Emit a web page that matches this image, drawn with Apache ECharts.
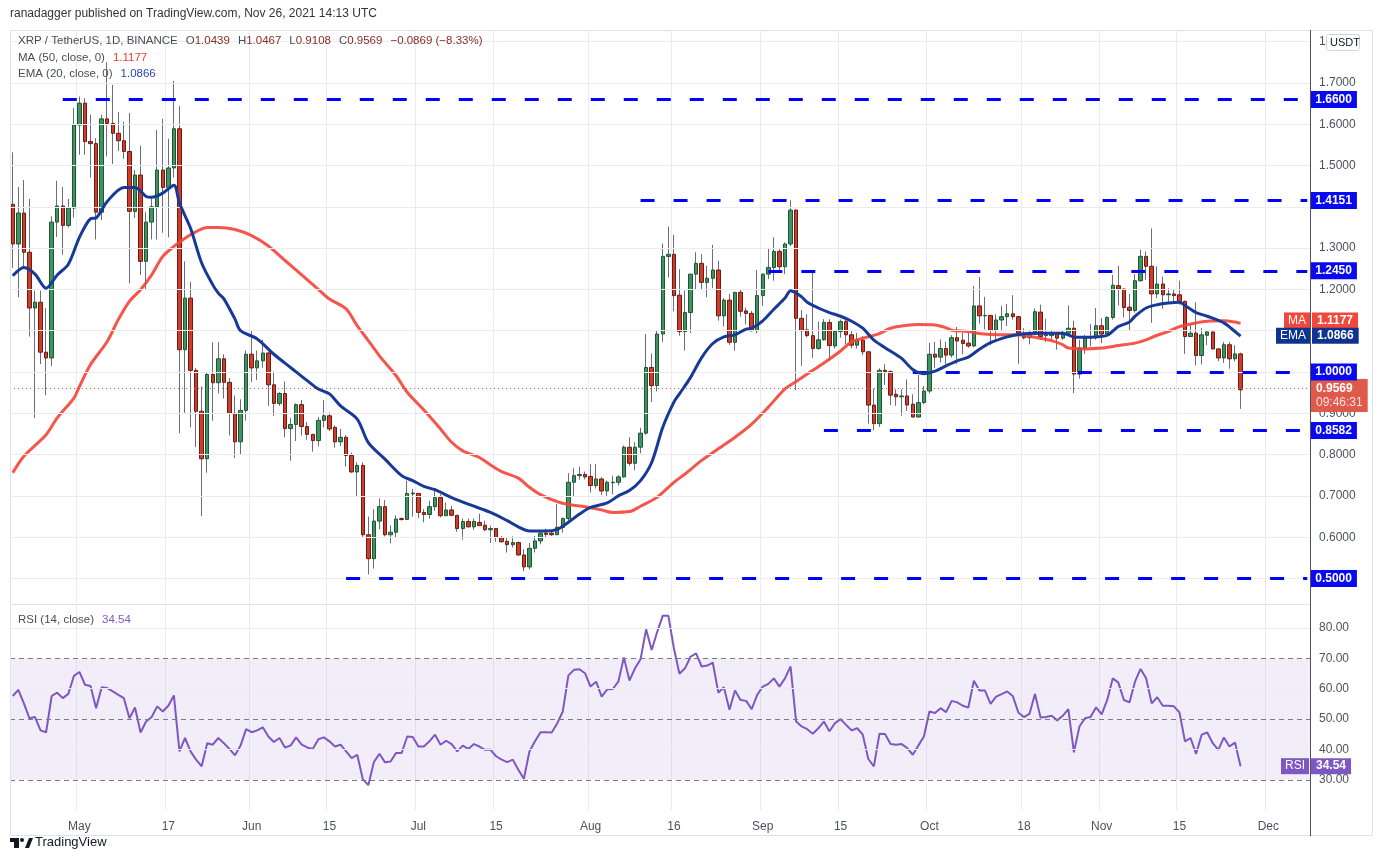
<!DOCTYPE html>
<html>
<head>
<meta charset="utf-8">
<title>XRP / TetherUS 1D</title>
<script src="https://cdn.jsdelivr.net/npm/echarts@6.0.0/dist/echarts.min.js"></script>
<style>
  html, body { margin: 0; padding: 0; background: #fff; }
  #chart { width: 1383px; height: 860px; }
</style>
</head>
<body>
<div id="chart"></div>
<script>
// daily candles, 19 Apr 2021 .. 26 Nov 2021
var opens = [1.406,1.310,1.385,1.290,1.155,1.169,1.048,1.034,1.363,1.402,
  1.355,1.397,1.598,1.651,1.558,1.553,1.387,1.613,1.602,1.578,
  1.560,1.534,1.389,1.477,1.268,1.363,1.400,1.489,1.447,1.494,
  1.589,1.054,1.179,1.004,0.905,0.790,0.994,0.974,1.032,0.975,
  0.900,0.831,0.907,1.043,1.010,1.027,1.046,0.969,0.924,0.948,
  0.863,0.873,0.921,0.868,0.849,0.834,0.883,0.894,0.866,0.831,
  0.842,0.798,0.758,0.774,0.606,0.548,0.639,0.674,0.606,0.612,
  0.645,0.643,0.705,0.706,0.660,0.655,0.674,0.696,0.652,0.666,
  0.653,0.621,0.638,0.625,0.636,0.629,0.618,0.621,0.599,0.590,
  0.582,0.587,0.557,0.528,0.573,0.591,0.610,0.610,0.606,0.624,
  0.645,0.733,0.749,0.752,0.747,0.725,0.741,0.712,0.732,0.733,
  0.746,0.818,0.779,0.818,0.852,1.011,0.967,1.092,1.280,1.285,
  1.186,1.098,1.144,1.237,1.263,1.217,1.227,1.247,1.136,1.174,
  1.072,1.193,1.148,1.142,1.100,1.185,1.237,1.253,1.292,1.255,
  1.310,1.392,1.130,1.102,1.088,1.057,1.078,1.120,1.063,1.098,
  1.122,1.090,1.065,1.077,1.049,0.920,0.875,1.004,1.001,0.946,
  0.940,0.942,0.922,0.891,0.926,0.954,1.043,1.036,1.057,1.041,
  1.083,1.077,1.070,1.063,1.160,1.136,1.137,1.101,1.126,1.134,
  1.141,1.134,1.094,1.083,1.091,1.145,1.088,1.088,1.093,1.082,
  1.094,1.106,0.995,1.058,1.084,1.086,1.112,1.092,1.132,1.209,
  1.201,1.157,1.149,1.221,1.280,1.256,1.189,1.213,1.187,1.189,
  1.187,1.171,1.086,1.094,1.040,1.089,1.097,1.056,1.034,1.066,
  1.032,1.0439];
var highs = [1.532,1.448,1.465,1.419,1.197,1.197,1.155,1.377,1.463,1.448,
  1.419,1.639,1.667,1.663,1.623,1.566,1.623,1.750,1.695,1.629,
  1.606,1.627,1.489,1.548,1.387,1.421,1.586,1.613,1.565,1.705,
  1.644,1.268,1.218,1.010,0.965,0.998,1.072,1.072,1.043,0.985,
  0.943,0.934,1.052,1.100,1.052,1.078,1.049,1.001,0.951,0.977,
  0.889,0.924,0.932,0.879,0.850,0.891,0.932,0.902,0.871,0.862,
  0.847,0.805,0.781,0.781,0.650,0.668,0.694,0.690,0.629,0.653,
  0.648,0.737,0.717,0.706,0.668,0.688,0.712,0.704,0.684,0.676,
  0.653,0.645,0.645,0.645,0.657,0.640,0.628,0.621,0.603,0.599,
  0.602,0.589,0.571,0.586,0.603,0.616,0.621,0.614,0.680,0.648,
  0.755,0.767,0.771,0.759,0.777,0.777,0.745,0.737,0.749,0.750,
  0.822,0.842,0.830,0.865,1.092,1.045,1.100,1.311,1.352,1.332,
  1.249,1.197,1.237,1.290,1.285,1.257,1.308,1.269,1.179,1.189,
  1.193,1.201,1.156,1.148,1.247,1.239,1.298,1.326,1.300,1.314,
  1.416,1.394,1.150,1.140,1.247,1.122,1.128,1.128,1.101,1.127,
  1.127,1.099,1.095,1.087,1.049,0.960,1.009,1.019,1.004,0.958,
  0.958,0.982,0.946,0.993,0.966,1.071,1.073,1.079,1.073,1.089,
  1.109,1.095,1.095,1.208,1.230,1.182,1.137,1.140,1.160,1.165,
  1.186,1.135,1.106,1.101,1.154,1.163,1.129,1.102,1.097,1.102,
  1.161,1.124,1.078,1.090,1.116,1.155,1.131,1.135,1.235,1.257,
  1.202,1.189,1.237,1.296,1.292,1.348,1.256,1.231,1.203,1.199,
  1.221,1.173,1.116,1.169,1.106,1.100,1.098,1.056,1.073,1.073,
  1.065,1.0467];
var lows = [1.252,1.181,1.252,1.086,0.889,1.019,0.944,1.014,1.327,1.284,
  1.350,1.374,1.526,1.526,1.471,1.321,1.368,1.522,1.504,1.535,
  1.516,1.215,1.373,1.235,1.199,1.321,1.321,1.337,1.326,1.471,
  0.852,0.901,0.866,0.818,0.651,0.756,0.882,0.948,0.936,0.846,
  0.792,0.800,0.882,0.976,0.981,1.010,0.918,0.894,0.918,0.842,
  0.785,0.833,0.846,0.836,0.807,0.820,0.866,0.857,0.817,0.821,
  0.771,0.756,0.699,0.600,0.510,0.524,0.619,0.602,0.585,0.598,
  0.640,0.643,0.650,0.646,0.636,0.645,0.664,0.648,0.652,0.652,
  0.613,0.594,0.624,0.618,0.628,0.615,0.586,0.589,0.587,0.563,
  0.575,0.555,0.518,0.522,0.563,0.583,0.599,0.603,0.606,0.611,
  0.640,0.700,0.739,0.740,0.708,0.718,0.702,0.700,0.704,0.725,
  0.744,0.773,0.762,0.803,0.848,0.927,0.953,1.072,1.229,1.147,
  1.088,1.052,1.094,1.201,1.201,1.181,1.203,1.124,1.110,1.066,
  1.052,1.134,1.115,1.098,1.094,1.160,1.225,1.221,1.247,1.237,
  1.305,0.956,1.015,1.084,1.034,1.054,1.076,1.027,1.057,1.083,
  1.067,1.057,1.057,1.041,0.875,0.859,0.867,0.969,0.920,0.918,
  0.894,0.906,0.890,0.890,0.922,0.948,1.010,1.023,1.019,1.035,
  1.020,1.043,1.059,1.060,1.117,1.103,1.065,1.079,1.099,1.111,
  1.127,1.020,1.079,1.067,1.090,1.078,1.073,1.076,1.054,1.078,
  1.090,0.949,0.984,1.044,1.062,1.078,1.070,1.090,1.127,1.161,
  1.132,1.100,1.144,1.219,1.223,1.119,1.179,1.153,1.169,1.167,
  1.163,1.044,1.086,1.016,1.018,1.065,1.054,1.026,1.022,1.008,
  1.026,0.9108];
var closes = [1.310,1.385,1.290,1.155,1.169,1.048,1.034,1.363,1.402,1.355,
  1.397,1.598,1.651,1.558,1.553,1.387,1.613,1.602,1.578,1.560,
  1.534,1.389,1.477,1.268,1.363,1.400,1.489,1.447,1.494,1.589,
  1.054,1.179,1.004,0.905,0.790,0.994,0.974,1.032,0.975,0.900,
  0.831,0.907,1.043,1.010,1.027,1.046,0.969,0.924,0.948,0.863,
  0.873,0.921,0.868,0.849,0.834,0.883,0.894,0.862,0.831,0.842,
  0.798,0.758,0.774,0.606,0.548,0.639,0.674,0.606,0.612,0.644,
  0.643,0.706,0.707,0.660,0.655,0.674,0.696,0.652,0.666,0.653,
  0.621,0.638,0.625,0.638,0.628,0.618,0.621,0.599,0.589,0.582,
  0.587,0.557,0.528,0.573,0.591,0.610,0.607,0.606,0.624,0.645,
  0.733,0.749,0.752,0.746,0.725,0.741,0.712,0.733,0.733,0.746,
  0.818,0.779,0.818,0.852,1.011,0.967,1.092,1.280,1.285,1.185,
  1.098,1.144,1.237,1.263,1.217,1.227,1.247,1.136,1.174,1.072,
  1.193,1.147,1.142,1.100,1.185,1.237,1.253,1.292,1.255,1.310,
  1.392,1.130,1.100,1.088,1.057,1.078,1.120,1.064,1.098,1.122,
  1.090,1.065,1.077,1.049,0.920,0.875,1.004,1.001,0.944,0.940,
  0.942,0.920,0.891,0.926,0.954,1.043,1.036,1.057,1.041,1.083,
  1.075,1.069,1.063,1.160,1.136,1.137,1.101,1.126,1.134,1.141,
  1.134,1.094,1.083,1.091,1.146,1.086,1.090,1.094,1.082,1.094,
  1.106,0.995,1.058,1.084,1.086,1.112,1.092,1.132,1.210,1.201,
  1.156,1.149,1.221,1.280,1.256,1.189,1.213,1.187,1.189,1.185,
  1.169,1.086,1.094,1.040,1.090,1.097,1.056,1.034,1.066,1.032,
  1.0439,0.9569];

// MA(50) and EMA(20): [day index, value]
var maPoints = [[0,0.756],[2,0.796],[6,0.848],[8,0.889],[11,0.937],[12,0.965],[14,1.018],[17,1.074],
  [19,1.127],[21,1.171],[23,1.199],[25,1.235],[27,1.280],[29,1.304],[31,1.324],[33,1.340],[35,1.350],
  [37,1.350],[40,1.345],[43,1.330],[46,1.305],[49,1.270],[52,1.235],[55,1.200],[57,1.177],[60,1.153],
  [62,1.112],[64,1.076],[66,1.039],[69,0.991],[71,0.951],[74,0.908],[77,0.862],[79,0.830],[81,0.809],
  [84,0.793],[86,0.775],[88,0.759],[91,0.743],[93,0.721],[95,0.703],[98,0.686],[100,0.679],[103,0.674],
  [106,0.666],[108,0.660],[111,0.662],[113,0.675],[116,0.697],[119,0.733],[121,0.753],[124,0.786],
  [127,0.814],[130,0.842],[133,0.874],[136,0.915],[139,0.959],[141,0.977],[143,0.995],[146,1.022],
  [149,1.051],[151,1.073],[154,1.085],[156,1.093],[158,1.106],[161,1.113],[163,1.115],[166,1.114],
  [168,1.107],[169,1.101],[172,1.098],[174,1.093],[176,1.091],[179,1.090],[181,1.090],[184,1.084],
  [187,1.076],[189,1.066],[190,1.058],[193,1.056],[196,1.058],[199,1.064],[202,1.070],[204,1.078],
  [206,1.089],[208,1.098],[210,1.110],[213,1.119],[215,1.123],[218,1.124],[220,1.121],[221,1.1177]];
var emaPoints = [[0,1.233],[2,1.253],[4,1.237],[6,1.203],[8,1.235],[10,1.261],[12,1.326],[14,1.371],
  [15,1.373],[17,1.413],[20,1.447],[22,1.447],[24,1.425],[25,1.423],[27,1.433],[29,1.452],[30,1.409],
  [32,1.348],[34,1.264],[36,1.211],[37,1.191],[38,1.177],[40,1.128],[41,1.100],[44,1.080],[47,1.043],
  [50,1.011],[53,0.979],[55,0.959],[57,0.947],[59,0.918],[62,0.886],[64,0.829],[67,0.789],[70,0.749],
  [72,0.737],[74,0.723],[76,0.715],[79,0.696],[82,0.680],[86,0.660],[89,0.640],[91,0.625],[93,0.615],
  [96,0.615],[98,0.619],[100,0.636],[102,0.656],[104,0.672],[107,0.683],[109,0.700],[111,0.713],
  [113,0.737],[115,0.781],[117,0.866],[119,0.927],[120,0.947],[122,0.987],[124,1.035],[126,1.069],
  [128,1.085],[130,1.090],[132,1.104],[133,1.106],[135,1.124],[137,1.152],[139,1.179],[140,1.197],
  [141,1.191],[142,1.182],[143,1.169],[145,1.155],[147,1.144],[149,1.135],[151,1.123],[153,1.106],
  [155,1.077],[157,1.059],[160,1.033],[162,1.006],[164,0.996],[166,1.002],[168,1.015],[170,1.027],
  [172,1.036],[174,1.055],[176,1.071],[179,1.085],[181,1.091],[184,1.094],[187,1.094],[189,1.094],
  [191,1.085],[193,1.084],[195,1.085],[197,1.089],[199,1.110],[201,1.121],[202,1.135],[204,1.155],
  [206,1.163],[208,1.167],[210,1.169],[211,1.161],[213,1.144],[215,1.135],[218,1.119],[220,1.098],
  [221,1.0866]];

// RSI(14), one value per candle
var rsiValues = [57.6,59.6,55.2,50.3,50.7,46.3,45.7,57.6,58.7,56.9,
  58.3,64.2,65.5,61.3,60.9,53.6,60.5,60.2,59.1,58.0,
  56.9,50.3,53.8,45.6,49.2,50.7,54.2,52.5,54.4,57.8,
  39.4,43.8,39.4,36.7,34.5,42.1,41.6,43.8,42.1,40.2,
  38.1,41.3,46.7,45.7,46.3,47.3,44.3,42.5,43.8,40.7,
  41.3,44.0,41.6,40.7,40.2,43.4,44.0,42.7,41.0,41.6,
  39.4,37.2,38.3,30.3,28.3,35.9,38.6,35.8,36.1,38.9,
  38.9,44.3,44.1,41.0,41.0,42.7,44.9,41.6,42.9,41.8,
  39.4,41.3,40.2,41.8,41.0,39.9,39.9,37.8,36.7,35.9,
  36.7,33.4,30.4,39.4,42.7,45.7,45.7,45.6,48.6,52.5,
  64.3,66.2,66.4,65.1,60.7,62.3,57.4,59.8,59.9,62.3,
  70.3,62.7,66.7,69.7,79.5,72.7,78.7,84.0,84.0,73.3,
  64.9,66.7,70.5,71.6,67.3,67.6,68.6,58.7,60.5,53.1,
  59.4,56.3,56.0,53.3,58.0,60.7,61.6,63.4,60.7,63.4,
  67.3,49.2,47.6,46.7,45.2,47.0,49.2,46.0,48.7,50.0,
  48.1,46.3,47.0,44.9,36.9,34.5,45.2,45.1,41.8,41.6,
  41.8,40.5,38.3,41.3,44.3,52.5,52.0,53.6,52.3,56.0,
  55.5,54.4,53.8,62.6,59.4,59.4,55.0,57.4,58.2,59.1,
  57.6,52.2,50.7,51.7,58.3,50.5,50.7,51.1,49.6,51.1,
  53.3,39.1,47.6,50.3,50.7,53.9,51.6,56.3,63.4,62.0,
  56.3,55.5,62.3,66.5,63.4,55.2,57.2,54.4,54.4,54.2,
  52.2,42.7,43.8,38.6,44.9,45.6,42.1,39.9,44.0,41.0,
  42.3,34.54];

// horizontal levels drawn by the author, and the day they start on
var levelValues = [1.66, 1.4151, 1.245, 1.0, 0.8582, 0.5];
var levelStartDays = [9, 113, 136, 162, 146, 60];

// axis ticks
var priceTicks = [0.5,0.6,0.7,0.8,0.9,1.0,1.1,1.2,1.3,1.4,1.5,1.6,1.7,1.8];
var priceTicksHidden = [0.5, 1.0, 1.1, 1.4];
var rsiTicks = [80, 70, 60, 50, 40, 30];
var rsiDashed = [70, 50, 30];
var timeTickDates = ['2021-05-01','2021-05-17','2021-06-01','2021-06-15','2021-07-01','2021-07-15',
  '2021-08-01','2021-08-16','2021-09-01','2021-09-15','2021-10-01','2021-10-18','2021-11-01',
  '2021-11-15','2021-12-01'];
var timeTickLabels = ['May','17','Jun','15','Jul','15','Aug','16','Sep','15','Oct','18','Nov','15','Dec'];

var lastMA = 1.1177, lastEMA = 1.0866, lastRSI = 34.54;
var lastClose = closes[closes.length - 1];

// one category per day, with some empty room after the last candle
var categories = [];
var day0 = Date.UTC(2021, 3, 19);
for (var d = 0; d < 234; d++) {
  categories.push(new Date(day0 + d * 86400000).toISOString().slice(0, 10));
}
var tickLabelOf = {};
timeTickDates.forEach(function (t, k) { tickLabelOf[t] = timeTickLabels[k]; });
function isTick(idx, val) { return tickLabelOf[val] !== undefined; }

var FONT = "'Liberation Sans', Arial, sans-serif";
var GRID_C = '#ececee';
var AXIS_TXT = '#4c525e';
var HEAD_FONT = '12px ' + FONT;
var LEG_FONT = '11.5px ' + FONT;

var bodyData = opens.map(function (o, i) {
  var c = closes[i];
  return [o, c, Math.min(o, c), Math.max(o, c)];
});
var wickData = highs.map(function (h, i) { return [h, h, lows[i], h]; });

function sideBox(name, value, color, shiftX, shiftY) {
  return {
    show: true, position: 'end', distance: 0, offset: [shiftX, shiftY],
    formatter: '{n|' + name + '}{s| }{v|' + value + '}',
    rich: {
      n: { backgroundColor: color, color: '#fff', fontSize: 12, fontFamily: FONT, padding: [2, 4, 2, 4], lineHeight: 16 },
      s: { width: 2, fontSize: 12 },
      v: { backgroundColor: color, color: '#fff', fontSize: 12, fontWeight: 'bold', fontFamily: FONT, padding: [2, 5, 2, 5], lineHeight: 16 }
    }
  };
}

var chart = echarts.init(document.getElementById('chart'));

chart.setOption({
  animation: false,
  backgroundColor: '#ffffff',
  textStyle: { fontFamily: FONT },
  grid: [
    { left: 10, top: 30, width: 1300, height: 573 },
    { left: 10, top: 605, width: 1300, height: 205 }
  ],
  xAxis: [
    {
      type: 'category', gridIndex: 0, data: categories, boundaryGap: true,
      axisLine: { show: false }, axisTick: { show: false }, axisLabel: { show: false },
      splitLine: { show: true, interval: isTick, lineStyle: { color: GRID_C, width: 1 } }
    },
    {
      type: 'category', gridIndex: 1, data: categories, boundaryGap: true,
      axisLine: { show: false }, axisTick: { show: false },
      axisLabel: {
        show: true, interval: isTick, margin: 11, color: AXIS_TXT, fontSize: 12, fontFamily: FONT,
        formatter: function (v) { return tickLabelOf[v] || ''; }
      },
      splitLine: { show: true, interval: isTick, lineStyle: { color: GRID_C, width: 1 } }
    }
  ],
  yAxis: [
    { type: 'value', gridIndex: 0, min: 0.4407, max: 1.8281, show: false, splitLine: { show: false } },
    { type: 'value', gridIndex: 1, min: 20.14, max: 87.51, show: false, splitLine: { show: false } }
  ],
  series: [
    {
      name: 'priceGrid', type: 'line', xAxisIndex: 0, yAxisIndex: 0, data: [], z: 1, silent: true,
      markLine: {
        silent: true, symbol: 'none', animation: false,
        lineStyle: { color: GRID_C, type: 'solid', width: 1 },
        label: {
          show: true, position: 'end', distance: 9, color: AXIS_TXT, fontSize: 12, fontFamily: FONT,
          formatter: function (p) { return (+p.value).toFixed(4); }
        },
        data: priceTicks.map(function (v) {
          var item = { yAxis: v };
          if (priceTicksHidden.indexOf(v) >= 0) item.label = { show: false };
          return item;
        })
      }
    },
    {
      name: 'wick', type: 'candlestick', xAxisIndex: 0, yAxisIndex: 0, data: wickData,
      barWidth: 1, z: 2, silent: true,
      itemStyle: {
        color: '#6b6e78', color0: '#6b6e78', borderColor: '#6b6e78', borderColor0: '#6b6e78',
        borderColorDoji: '#6b6e78', borderWidth: 1
      }
    },
    {
      name: 'XRP', type: 'candlestick', xAxisIndex: 0, yAxisIndex: 0, data: bodyData,
      barWidth: 4, z: 3, silent: true,
      itemStyle: {
        color: '#3f9461', color0: '#cf3c2c', borderColor: '#1e5634', borderColor0: '#6a1c12',
        borderColorDoji: '#6a1c12', borderWidth: 1
      },
      markLine: {
        silent: true, symbol: 'none', animation: false,
        lineStyle: { color: '#e0533f', type: [1, 3], width: 1 },
        label: {
          show: true, position: 'end', distance: 1, offset: [0, 7],
          backgroundColor: '#e05a4b', padding: [3, 5, 2, 5],
          formatter: '{v|' + lastClose.toFixed(4) + '}\n{t|09:46:31}',
          rich: {
            v: { color: '#fff', fontSize: 12, fontWeight: 'bold', fontFamily: FONT, lineHeight: 14 },
            t: { color: '#fbe3e0', fontSize: 12, fontFamily: FONT, lineHeight: 14 }
          }
        },
        data: [{ yAxis: lastClose }]
      }
    },
    {
      name: 'MA (50)', type: 'line', xAxisIndex: 0, yAxisIndex: 0, data: maPoints,
      smooth: 0.3, showSymbol: false, z: 4, silent: true,
      lineStyle: { color: '#f44336', width: 3, opacity: 0.9 },
      markLine: {
        silent: true, symbol: 'none', animation: false,
        lineStyle: { color: 'rgba(0,0,0,0)' },
        label: sideBox('MA', lastMA.toFixed(4), '#f2483b', -26, -2),
        data: [{ yAxis: lastMA }]
      }
    },
    {
      name: 'EMA (20)', type: 'line', xAxisIndex: 0, yAxisIndex: 0, data: emaPoints,
      smooth: 0.3, showSymbol: false, z: 5, silent: true,
      lineStyle: { color: '#173a99', width: 3 },
      markLine: {
        silent: true, symbol: 'none', animation: false,
        lineStyle: { color: 'rgba(0,0,0,0)' },
        label: sideBox('EMA', lastEMA.toFixed(4), '#0f338f', -34, 1),
        data: [{ yAxis: lastEMA }]
      }
    },
    {
      name: 'levels', type: 'line', xAxisIndex: 0, yAxisIndex: 0, data: [], z: 6, silent: true,
      markLine: {
        silent: true, symbol: 'none', animation: false,
        lineStyle: { color: '#0000ff', type: [14, 19], width: 3 },
        label: {
          show: true, position: 'end', distance: 3, color: '#fff', backgroundColor: '#0a0af2',
          fontWeight: 'bold', fontSize: 12, fontFamily: FONT, padding: [3, 5, 2, 5],
          formatter: function (p) { return (+p.value).toFixed(4); }
        },
        data: levelValues.map(function (v, k) {
          return [
            { coord: [categories[levelStartDays[k]], v], value: v },
            { coord: [categories[categories.length - 1], v] }
          ];
        })
      }
    },
    {
      name: 'rsiGrid', type: 'line', xAxisIndex: 1, yAxisIndex: 1, data: [], z: 1, silent: true,
      markArea: {
        silent: true,
        itemStyle: { color: 'rgba(126,87,194,0.10)' },
        data: [[{ yAxis: 30 }, { yAxis: 70 }]]
      },
      markLine: {
        silent: true, symbol: 'none', animation: false,
        label: {
          show: true, position: 'end', distance: 9, color: AXIS_TXT, fontSize: 12, fontFamily: FONT,
          formatter: function (p) { return (+p.value).toFixed(2); }
        },
        data: rsiTicks.map(function (v) {
          var dashed = rsiDashed.indexOf(v) >= 0;
          return {
            yAxis: v,
            lineStyle: dashed ? { color: '#787b86', type: [5, 4], width: 1 } : { color: GRID_C, type: 'solid', width: 1 }
          };
        })
      }
    },
    {
      name: 'RSI (14)', type: 'line', xAxisIndex: 1, yAxisIndex: 1, data: rsiValues,
      showSymbol: false, z: 3, silent: true,
      lineStyle: { color: '#7e57c2', width: 2 },
      markLine: {
        silent: true, symbol: 'none', animation: false,
        lineStyle: { color: 'rgba(0,0,0,0)' },
        label: sideBox('RSI', lastRSI.toFixed(2), '#7e57c2', -29, 0),
        data: [{ yAxis: lastRSI }]
      }
    }
  ],
  graphic: [
    { type: 'rect', silent: true, z: 50, shape: { x: 10.5, y: 30.5, width: 1362, height: 805 },
      style: { fill: 'none', stroke: '#e0e3eb', lineWidth: 1 } },
    { type: 'line', silent: true, z: 50, shape: { x1: 10, y1: 604.5, x2: 1310, y2: 604.5 },
      style: { stroke: '#e0e3eb', lineWidth: 1 } },
    { type: 'line', silent: true, z: 60, shape: { x1: 1310.5, y1: 30, x2: 1310.5, y2: 836 },
      style: { stroke: '#50535e', lineWidth: 1 } },
    { type: 'text', silent: true, z: 60, left: 10, top: 8,
      style: { text: 'ranadagger published on TradingView.com, Nov 26, 2021 14:13 UTC',
        fill: '#333', font: HEAD_FONT } },
    { type: 'text', silent: true, z: 60, left: 18, top: 35,
      style: {
        text: '{a|XRP / TetherUS, 1D, BINANCE}{g| }{a|O}{b|1.0439}{g| }{a|H}{b|1.0467}{g| }{a|L}{b|0.9108}{g| }{a|C}{b|0.9569}{g| }{b|−0.0869 (−8.33%)}',
        rich: {
          a: { fill: '#4a4d57', font: LEG_FONT },
          b: { fill: '#8a2c24', font: LEG_FONT },
          g: { width: 8, font: LEG_FONT }
        }
      } },
    { type: 'text', silent: true, z: 60, left: 18, top: 52,
      style: {
        text: '{a|MA (50, close, 0)}{g| }{b|1.1177}',
        rich: { a: { fill: '#4a4d57', font: LEG_FONT }, b: { fill: '#f23b2e', font: LEG_FONT }, g: { width: 8, font: LEG_FONT } }
      } },
    { type: 'text', silent: true, z: 60, left: 18, top: 68,
      style: {
        text: '{a|EMA (20, close, 0)}{g| }{b|1.0866}',
        rich: { a: { fill: '#4a4d57', font: LEG_FONT }, b: { fill: '#2747b5', font: LEG_FONT }, g: { width: 8, font: LEG_FONT } }
      } },
    { type: 'text', silent: true, z: 60, left: 18, top: 614,
      style: {
        text: '{a|RSI (14, close)}{g| }{b|34.54}',
        rich: { a: { fill: '#4a4d57', font: LEG_FONT }, b: { fill: '#7e57c2', font: LEG_FONT }, g: { width: 8, font: LEG_FONT } }
      } },
    { type: 'rect', silent: true, z: 70, shape: { x: 1326.5, y: 34.5, width: 33, height: 16, r: 2 },
      style: { fill: '#fff', stroke: '#d1d4dc', lineWidth: 1 } },
    { type: 'text', silent: true, z: 71, left: 1330, top: 37,
      style: { text: 'USDT', fill: '#131722', font: '11px ' + FONT } },
    // TradingView mark
    { type: 'rect', silent: true, z: 60, shape: { x: 10, y: 838, width: 9, height: 4 }, style: { fill: '#131722' } },
    { type: 'rect', silent: true, z: 60, shape: { x: 14, y: 838, width: 5, height: 10 }, style: { fill: '#131722' } },
    { type: 'circle', silent: true, z: 60, shape: { cx: 22, cy: 840, r: 2 }, style: { fill: '#131722' } },
    { type: 'polygon', silent: true, z: 60, shape: { points: [[25, 848], [29, 838], [33, 838], [29, 848]] },
      style: { fill: '#131722' } },
    { type: 'text', silent: true, z: 60, left: 35, top: 836,
      style: { text: 'TradingView', fill: '#131722', font: '13px ' + FONT } }
  ]
});
</script>
</body>
</html>
